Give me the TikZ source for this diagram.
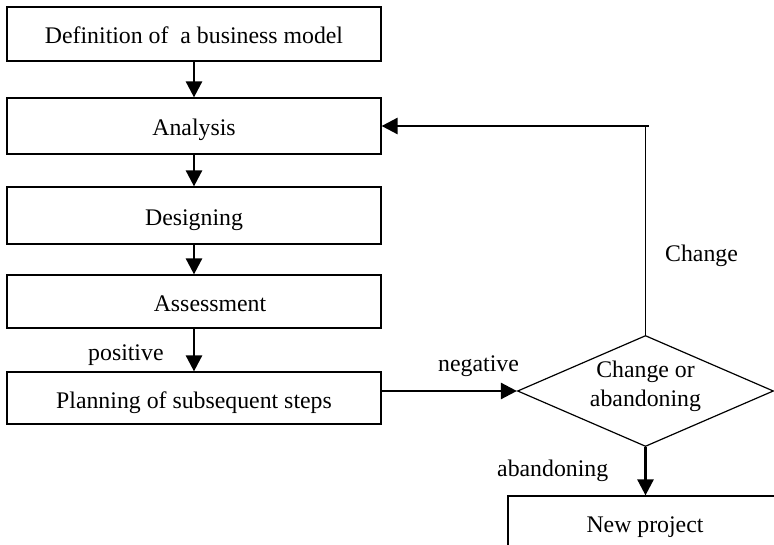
\documentclass[tikz,border=0pt]{standalone}
\usepackage{fontspec}
\setmainfont{Liberation Serif}
\usetikzlibrary{arrows.meta,shapes.geometric}
\begin{document}
\begin{tikzpicture}[x=1pt,y=-1pt,
  font=\fontsize{23.8}{29}\selectfont,
  stepbox/.style={draw,line width=1.2pt,rectangle,minimum width=374pt,
    inner sep=0pt,text height=20pt,text depth=0pt},
  arr/.style={line width=2.6pt,-{Triangle[length=16pt,width=16pt]}},
  thinline/.style={line width=1.1pt},
  lbl/.style={anchor=base west,inner sep=0pt}]
\useasboundingbox (0,0) rectangle (774,545);
\clip (0,0) rectangle (774,545);

% main column of steps
\node[stepbox,minimum height=54pt] (def)  at (194,34)    {Definition of~ a business model};
\node[stepbox,minimum height=56pt] (ana)  at (194,126)   {Analysis};
\node[stepbox,minimum height=57pt] (des)  at (194,215.5) {Designing};
\node[stepbox,minimum height=53pt] (ass)  at (194,301.5) {\hspace*{32pt}Assessment};
\node[stepbox,minimum height=52pt] (plan) at (194,398)   {Planning of subsequent steps};

% decision
\node[draw,diamond,line width=1.2pt,inner sep=0pt,minimum width=256pt,
  minimum height=111pt,
  label={[align=center,yshift=5pt,inner sep=0pt]center:Change or\\abandoning}]
  (dec) at (645.5,391) {};

% new project box, running past the right and bottom edges
\node[stepbox,minimum width=274pt,minimum height=52pt] (new) at (645,522) {New project};

% connectors
\draw[arr] (def.south) -- (ana.north);
\draw[arr] (ana.south) -- (des.north);
\draw[arr] (des.south) -- (ass.north);
\draw[arr] (ass.south) -- (plan.north);
\draw[arr] (plan.east |- dec.west) -- (dec.west);
\draw[arr] (dec.south) -- (new.north -| dec.south);
\coordinate (fb) at ([xshift=3pt]dec.north |- ana.east);
\draw[thinline] (dec.north) -- (dec.north |- ana.east);
\draw[arr] (fb) -- (ana.east);

% labels
\node[lbl] (lpos) at (88,360) {positive};
\node[lbl] (lneg) at (438,371) {negative};
\node[lbl] (laban) at (497,476) {abandoning};
\node[lbl] (lchg) at (665,262) {Change};
\end{tikzpicture}
\end{document}
